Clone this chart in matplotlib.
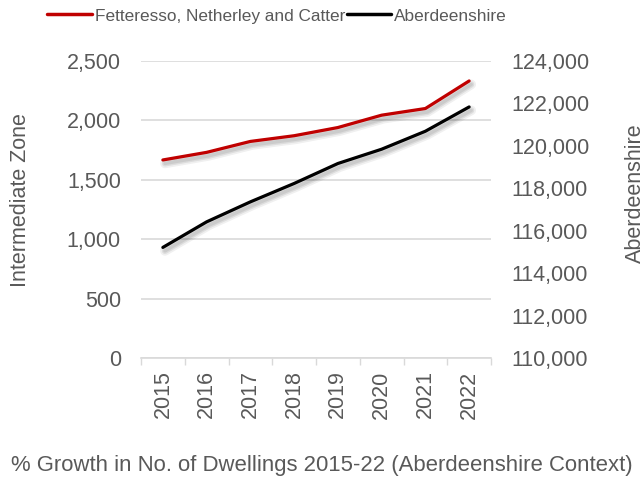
import matplotlib
matplotlib.use("Agg")
import matplotlib.pyplot as plt
import matplotlib.patheffects as pe
from matplotlib.ticker import FuncFormatter, FixedLocator

plt.rcParams['font.family'] = ['Liberation Sans', 'DejaVu Sans']

years = ['2015', '2016', '2017', '2018', '2019', '2020', '2021', '2022']
zone_values = [1667, 1731, 1823, 1871, 1940, 2044, 2100, 2332]
shire_values = [115213, 116418, 117360, 118227, 119168, 119842, 120689, 121834]
zone_name = 'Fetteresso, Netherley and Catter'
shire_name = 'Aberdeenshire'
title = '% Growth in No. of Dwellings 2015-22 (Aberdeenshire Context)'

txt = '#595959'
grid = '#d9d9d9'
red = '#c00000'
FS = 15.5

fig = plt.figure(figsize=(6.44, 4.79), dpi=100)
ax = fig.add_axes([141/644, 1-358/479, 350/644, 297/479])
ax2 = ax.twinx()

x = list(range(len(years)))
shadow = [pe.SimpleLineShadow(offset=(1.5, -2.5), shadow_color='black', alpha=0.06, linewidth=7),
          pe.SimpleLineShadow(offset=(1.5, -2.5), shadow_color='black', alpha=0.08, linewidth=4.5),
          pe.SimpleLineShadow(offset=(1.5, -2.5), shadow_color='black', alpha=0.08, linewidth=2.5),
          pe.Normal()]
l1, = ax.plot(x, zone_values, color=red, lw=2.3, solid_capstyle='round', path_effects=shadow, zorder=3)
l2, = ax2.plot(x, shire_values, color='black', lw=2.3, solid_capstyle='round', path_effects=shadow, zorder=3)

ax.set_xlim(-0.5, len(years) - 0.5)
ax.set_ylim(0, 2500)
ax2.set_ylim(110000, 124000)
ax.set_yticks(range(0, 2501, 500))
ax2.set_yticks(range(110000, 124001, 2000))
fmt = FuncFormatter(lambda v, p: f'{int(v):,}')
ax.yaxis.set_major_formatter(fmt)
ax2.yaxis.set_major_formatter(fmt)

ax.set_xticks(x)
ax.set_xticklabels(years, rotation=90)
ax.xaxis.set_minor_locator(FixedLocator([i - 0.5 for i in range(len(years) + 1)]))
ax.tick_params(axis='x', which='major', length=0, pad=9, labelsize=FS, labelcolor=txt)
ax.tick_params(axis='x', which='minor', length=5, width=1, color=grid)
ax.tick_params(axis='y', length=0, pad=14.5, labelsize=FS, labelcolor=txt)
ax2.tick_params(axis='y', length=0, pad=15, labelsize=FS, labelcolor=txt)

ax.grid(axis='y', color=grid, lw=1.2)
ax.set_axisbelow(True)
for a in (ax, ax2):
    for s in ['top', 'left', 'right', 'bottom']:
        a.spines[s].set_visible(False)
ax.spines['bottom'].set_visible(True)
ax.spines['bottom'].set_color(grid)
ax.spines['bottom'].set_linewidth(1.2)

fig.text(21/644, 1-200/479, 'Intermediate Zone', rotation=90, ha='center', va='center', fontsize=FS, color=txt)
fig.text(635/644, 1-193/479, shire_name, rotation=90, ha='center', va='center', fontsize=FS, color=txt)
fig.text(0.5, 1-465/479, title, ha='center', va='center', fontsize=15.9, color=txt)

fig.legend([l1, l2], [zone_name, shire_name], loc='center', bbox_to_anchor=(277/644, 1-16/479),
           ncol=2, frameon=False, fontsize=12.4, labelcolor=txt, handlelength=2.6,
           handletextpad=0.15, columnspacing=0.1, borderpad=0)
for h in fig.legends[0].legend_handles:
    h.set_path_effects([])
    h.set_linewidth(2.5)

fig.savefig('out.png', dpi=100)
